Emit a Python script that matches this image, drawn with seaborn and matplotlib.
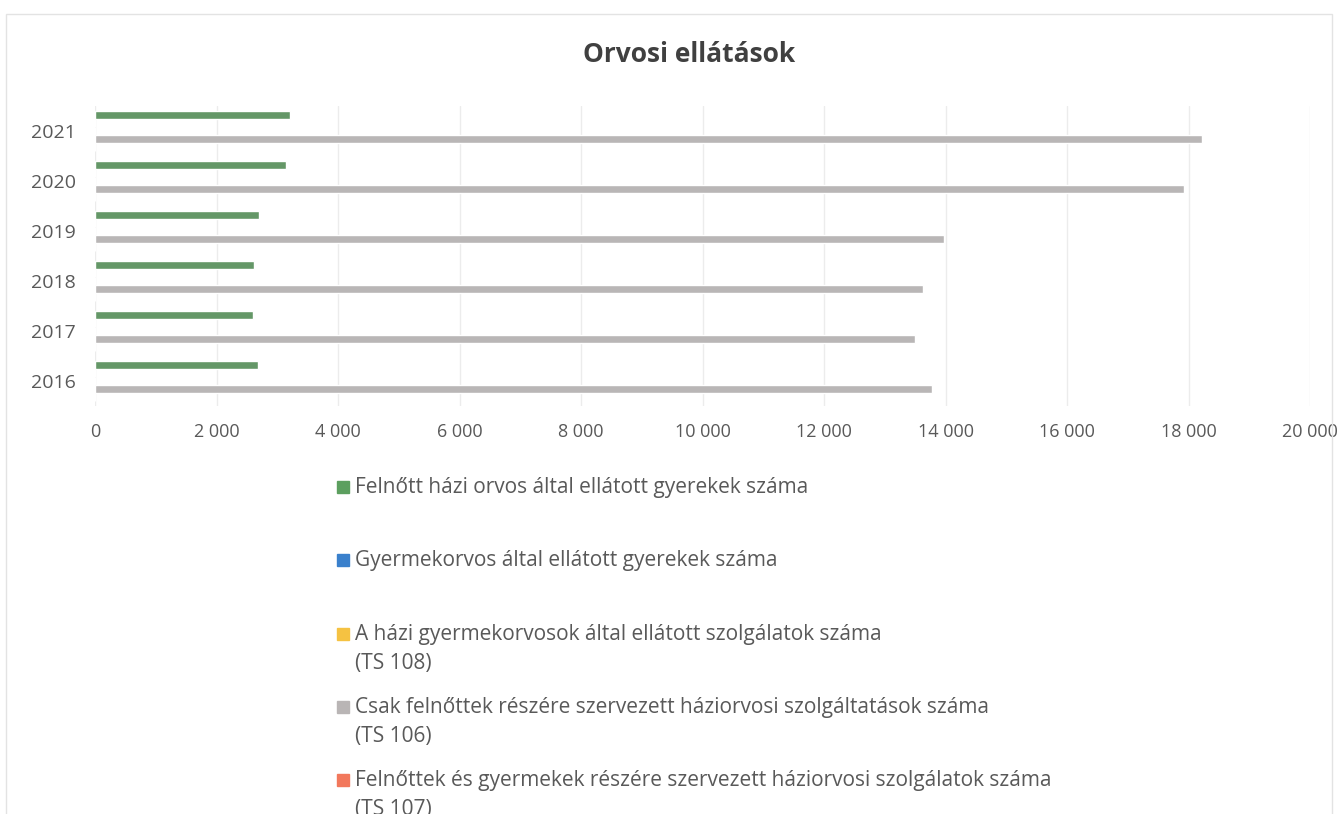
import pandas as pd
import matplotlib.pyplot as plt
import seaborn as sns
from matplotlib.patches import Rectangle
from matplotlib.ticker import FuncFormatter

# Data
years = ["2021", "2020", "2019", "2018", "2017", "2016"]
felnott_orvos_gyerek = [3210, 3145, 2700, 2615, 2600, 2685]
gyermekorvos_gyerek = [0, 0, 0, 0, 0, 0]
ts108 = [0, 0, 0, 0, 0, 0]
ts106 = [18220, 17925, 13975, 13630, 13500, 13780]
ts107 = [0, 0, 0, 0, 0, 0]

series_names = [
    "Felnőtt házi orvos által ellátott gyerekek száma",
    "Gyermekorvos által ellátott gyerekek száma",
    "A házi gyermekorvosok által ellátott szolgálatok száma\n(TS 108)",
    "Csak felnőttek részére szervezett háziorvosi szolgáltatások száma\n(TS 106)",
    "Felnőttek és gyermekek részére szervezett háziorvosi szolgálatok száma\n(TS 107)",
]
series_values = [felnott_orvos_gyerek, gyermekorvos_gyerek, ts108, ts106, ts107]
colors = ["#5c9f5f", "#3a80cc", "#f5c242", "#b9b5b5", "#f2785c"]

rows = []
for name, vals in zip(series_names, series_values):
    for y, v in zip(years, vals):
        rows.append({"year": y, "series": name, "value": v})
df = pd.DataFrame(rows)

sns.set_style("white")
plt.rcParams["font.family"] = ["Open Sans", "DejaVu Sans"]
text_color = "#595959"

fig = plt.figure(figsize=(13.44, 8.14), dpi=100)
ax = fig.add_axes([95 / 1344, 1 - 406 / 814, 1215 / 1344, 300 / 814])

sns.barplot(data=df, y="year", x="value", hue="series", order=years,
            hue_order=series_names, palette=colors, orient="h",
            width=0.8, gap=0.05, legend=False, ax=ax)

ax.set_xlim(0, 20000)
ax.set_xticks(range(0, 20001, 2000))
ax.xaxis.set_major_formatter(FuncFormatter(lambda v, p: f"{int(v):,}".replace(",", " ")))
ax.grid(axis="x", color="#ececec", linewidth=1)
ax.set_axisbelow(True)
for s in ax.spines.values():
    s.set_visible(False)
ax.set_xlabel("")
ax.set_ylabel("")
ax.tick_params(axis="x", length=0, pad=12, labelsize=13, labelcolor=text_color)
ax.tick_params(axis="y", length=0, pad=14, labelsize=14, labelcolor=text_color)

fig.text(0.513, 1 - 55 / 814, "Orvosi ellátások", ha="center", va="center",
         fontsize=19, fontweight="bold", color="#404040")

# legend, one entry per row like in the original
for i, (name, c) in enumerate(zip(series_names, colors)):
    ytop = 487 + i * 73.3
    fig.patches.append(Rectangle((337 / 1344, 1 - (ytop + 6) / 814), 12 / 1344, 12 / 814,
                                 transform=fig.transFigure, color=c, figure=fig))
    fig.text(355 / 1344, 1 - (ytop - 10) / 814, name, ha="left", va="top",
             fontsize=15, color=text_color, linespacing=1.5)

# chart frame
fig.patches.append(Rectangle((6 / 1344, -0.01), 1326 / 1344, 1 - 14 / 814 + 0.01,
                             transform=fig.transFigure, fill=False,
                             edgecolor="#e3e3e3", linewidth=1, figure=fig))

fig.savefig("out.png", dpi=100)
